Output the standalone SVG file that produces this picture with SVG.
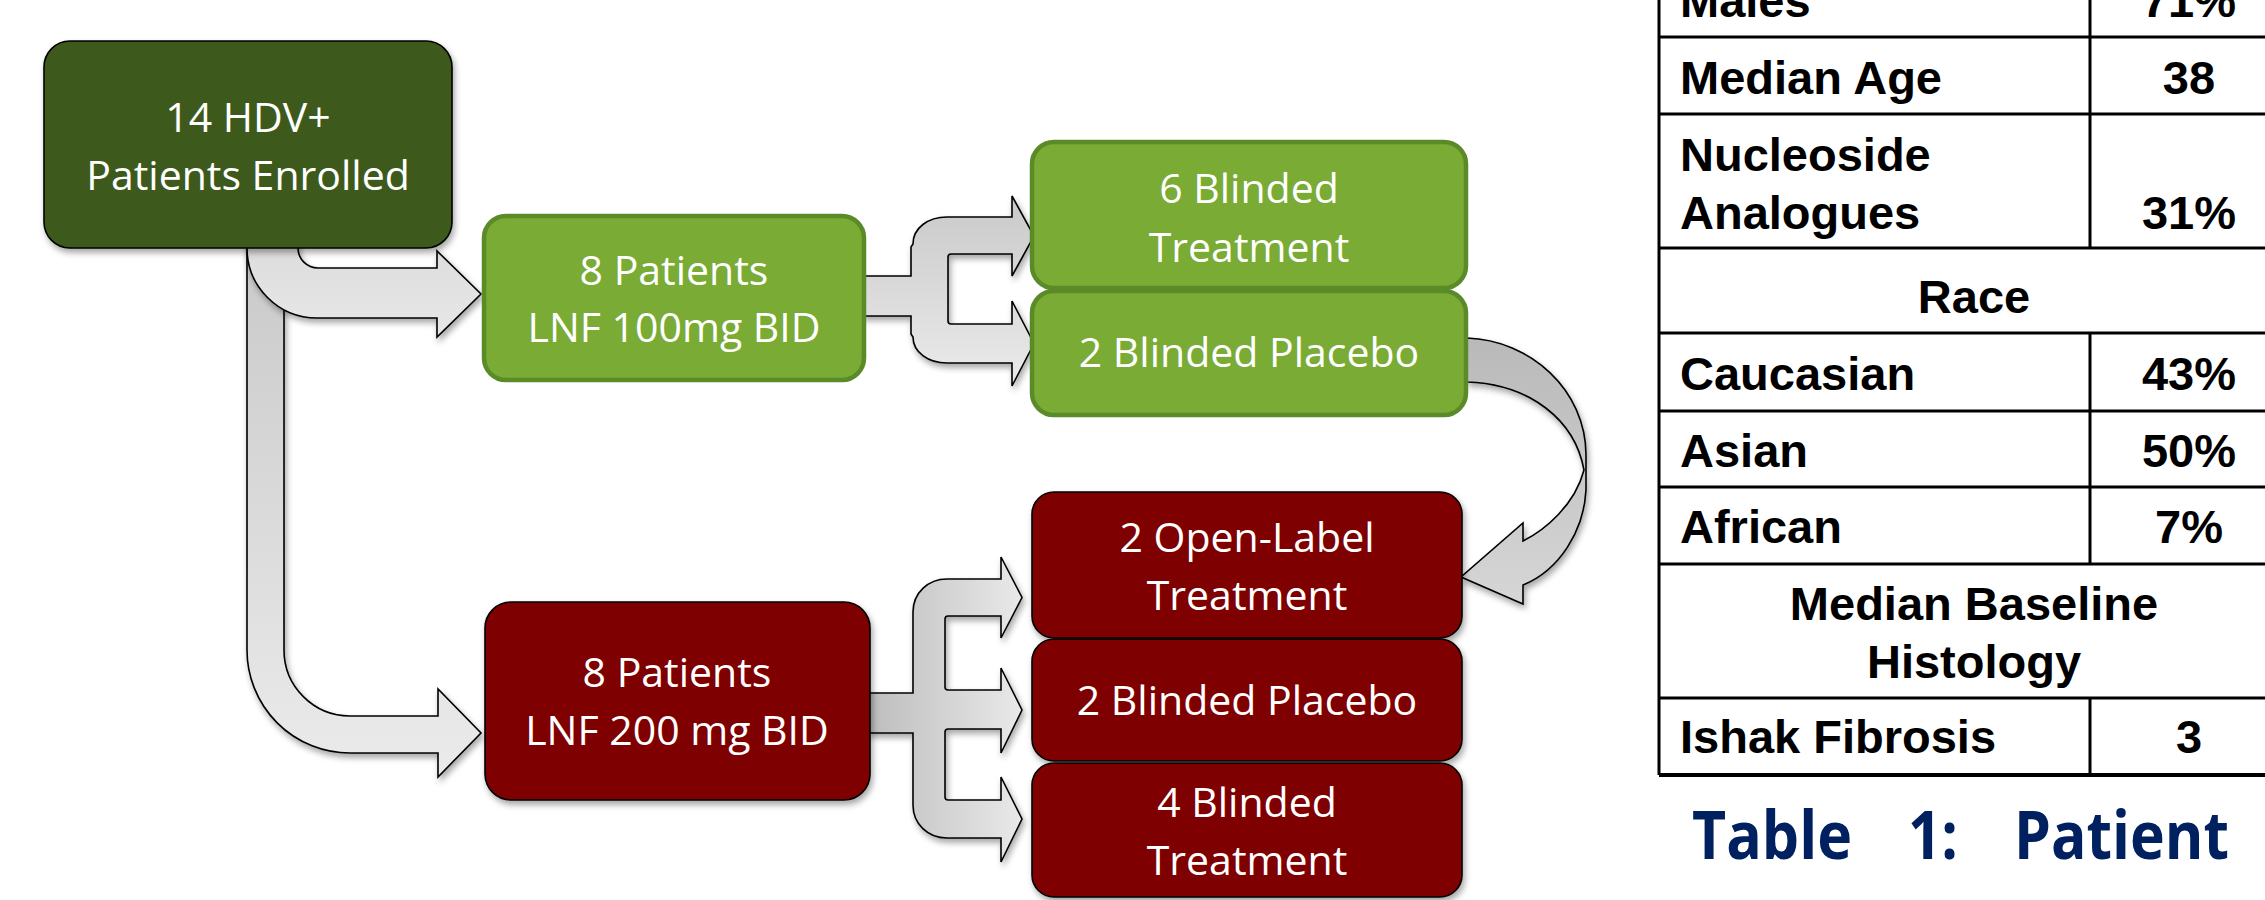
<svg xmlns="http://www.w3.org/2000/svg" width="2265" height="900" viewBox="0 0 2265 900">
  <defs>
    <filter id="shadow" x="-10%" y="-10%" width="130%" height="130%">
      <feDropShadow dx="2" dy="4" stdDeviation="3" flood-color="#000" flood-opacity="0.35"/>
    </filter>
    <linearGradient id="grayV" x1="0" y1="0" x2="0" y2="1">
      <stop offset="0" stop-color="#c9c9c9"/>
      <stop offset="1" stop-color="#ebebeb"/>
    </linearGradient>
    <linearGradient id="grayLight" x1="0" y1="0" x2="0" y2="1">
      <stop offset="0" stop-color="#dcdcdc"/>
      <stop offset="1" stop-color="#e8e8e8"/>
    </linearGradient>
    <linearGradient id="grayH" x1="0" y1="0" x2="1" y2="0">
      <stop offset="0" stop-color="#bdbdbd"/>
      <stop offset="1" stop-color="#e9e9e9"/>
    </linearGradient>
    <linearGradient id="grayCurve" x1="0" y1="0" x2="0" y2="1">
      <stop offset="0" stop-color="#b9b9b9"/>
      <stop offset="1" stop-color="#d6d6d6"/>
    </linearGradient>
    <style>
      .arrow { stroke: #000; stroke-width: 1.6; stroke-linejoin: miter; filter: url(#shadow); }
      .dark { fill: #3e5a1c; stroke: #000; stroke-width: 1.6; filter: url(#shadow); }
      .green { fill: #79ab35; stroke: #5b8a29; stroke-width: 4.5; }
      .red { fill: #7f0000; stroke: #000; stroke-width: 1.6; filter: url(#shadow); }
      .label { font-family: "Open Sans", "Noto Sans", sans-serif; font-size: 41px; fill: #fff; text-anchor: middle; }
      .grid { stroke: #000; stroke-width: 3; fill: none; }
      .cell { font-family: "Liberation Sans", Arial, sans-serif; font-weight: bold; font-size: 47px; fill: #000; }
      .val { text-anchor: middle; }
      .caption { font-family: "Open Sans", "Noto Sans", sans-serif; font-weight: bold; font-size: 66px; fill: #002060; }
    </style>
  </defs>
  <rect width="2265" height="900" fill="#fff"/>

  <!-- block arrows -->
  <g id="connectors">
    <!-- enrolled to 200 mg arm -->
    <path class="arrow" fill="url(#grayV)" d="M247,240 L247,650 A103,103 0 0 0 350,753 L438,753 L438,777 L481,733 L438,689 L438,716 L350,716 A66,66 0 0 1 284,650 L284,240 Z"/>
    <!-- enrolled to 100 mg arm -->
    <path class="arrow" fill="url(#grayLight)" d="M247,240 L247,248 A70,70 0 0 0 317,318 L437,318 L437,337 L481,294 L437,251 L437,268 L318,268 A20,20 0 0 1 298,248 L298,240 Z"/>
    <!-- 100 mg arm split -->
    <path class="arrow" fill="url(#grayV)" d="M862,276 L911,276 L911,247 L913,244 C913,228 928,217 947,217 L1012,217 L1012,196 L1034,236 L1012,276 L1012,254 L951,254 Q948,254 948,257 L948,321 Q948,324 951,324 L1012,324 L1012,301 L1034,343.5 L1012,386 L1012,363 L947,363 C928,363 913,352 913,337 L911,334 L911,316 L862,316 Z"/>
    <!-- 200 mg arm split -->
    <path class="arrow" fill="url(#grayH)" d="M868,693 L913,693 L913,612 C913,593 928,579 947,579 L1001,579 L1001,557 L1022,597.5 L1001,638 L1001,616 L948,616 Q945,616 945,619 L945,687 Q945,690 948,690 L1001,690 L1001,668 L1022,710 L1001,753 L1001,729 L948,729 Q945,729 945,732 L945,797 Q945,800 948,800 L1001,800 L1001,777 L1022,819 L1001,862 L1001,838 L947,838 C928,838 913,824 913,805 L913,733 L868,733 Z"/>
    <!-- placebo rollover to open-label -->
    <path class="arrow" fill="url(#grayCurve)" d="M1467,338 C1530,340 1586,390 1586,455 L1586,490 C1584,530 1560,570 1523,585 L1523,604 L1461,577 L1523,523 L1523,541 C1545,530 1575,505 1584,470 C1575,420 1530,384 1467,382 Z"/>
  </g>

  <g id="enrolled">
    <rect class="dark" x="44" y="41" width="408" height="207" rx="26"/>
    <text class="label" x="248" y="132">14 HDV+</text>
    <text class="label" x="248" y="190">Patients Enrolled</text>
  </g>

  <g id="arm-100">
    <rect class="green" x="484" y="216" width="380" height="164" rx="22"/>
    <text class="label" x="674" y="285">8 Patients</text>
    <text class="label" x="674" y="342">LNF 100mg BID</text>
  </g>

  <g id="arm-100-treatment">
    <rect class="green" x="1032" y="142" width="434" height="146" rx="22"/>
    <text class="label" x="1249" y="203">6 Blinded</text>
    <text class="label" x="1249" y="262">Treatment</text>
  </g>

  <g id="arm-100-placebo">
    <rect class="green" x="1032" y="291" width="434" height="124" rx="22"/>
    <text class="label" x="1249" y="367">2 Blinded Placebo</text>
  </g>

  <g id="arm-200">
    <rect class="red" x="485" y="602" width="385" height="198" rx="26"/>
    <text class="label" x="677" y="687">8 Patients</text>
    <text class="label" x="677" y="745">LNF 200 mg BID</text>
  </g>

  <g id="arm-200-open">
    <rect class="red" x="1032" y="492" width="430" height="146" rx="22"/>
    <text class="label" x="1247" y="552">2 Open-Label</text>
    <text class="label" x="1247" y="610">Treatment</text>
  </g>

  <g id="arm-200-placebo">
    <rect class="red" x="1032" y="639" width="430" height="122" rx="22"/>
    <text class="label" x="1247" y="715">2 Blinded Placebo</text>
  </g>

  <g id="arm-200-treatment">
    <rect class="red" x="1032" y="763" width="430" height="134" rx="22"/>
    <text class="label" x="1247" y="817">4 Blinded</text>
    <text class="label" x="1247" y="875">Treatment</text>
  </g>

  <!-- baseline characteristics table -->
  <g id="table">
    <path class="grid" d="M1659,0 V775 M2090,0 V248 M2090,333 V564 M2090,698 V775 M1659,37 H2265 M1659,114 H2265 M1659,248 H2265 M1659,333 H2265 M1659,411 H2265 M1659,487 H2265 M1659,564 H2265 M1659,698 H2265"/>
    <path d="M1659,775 H2265" stroke="#000" stroke-width="4"/>
    <text class="cell" x="1680" y="17">Males</text>
    <text class="cell val" x="2189" y="17">71%</text>
    <text class="cell" x="1680" y="94">Median Age</text>
    <text class="cell val" x="2189" y="94">38</text>
    <text class="cell" x="1680" y="171">Nucleoside</text>
    <text class="cell" x="1680" y="229">Analogues</text>
    <text class="cell val" x="2189" y="229">31%</text>
    <text class="cell val" x="1974" y="313">Race</text>
    <text class="cell" x="1680" y="390">Caucasian</text>
    <text class="cell val" x="2189" y="390">43%</text>
    <text class="cell" x="1680" y="467">Asian</text>
    <text class="cell val" x="2189" y="467">50%</text>
    <text class="cell" x="1680" y="543">African</text>
    <text class="cell val" x="2189" y="543">7%</text>
    <text class="cell val" x="1974" y="620">Median Baseline</text>
    <text class="cell val" x="1974" y="678">Histology</text>
    <text class="cell" x="1680" y="753">Ishak Fibrosis</text>
    <text class="cell val" x="2189" y="753">3</text>
  </g>

  <g id="caption">
    <text class="caption" x="1692" y="859" textLength="160" lengthAdjust="spacingAndGlyphs">Table</text>
    <text class="caption" x="1908" y="859" textLength="50" lengthAdjust="spacingAndGlyphs">1:</text>
    <text class="caption" x="2014" y="859" textLength="215" lengthAdjust="spacingAndGlyphs">Patient</text>
  </g>
</svg>
